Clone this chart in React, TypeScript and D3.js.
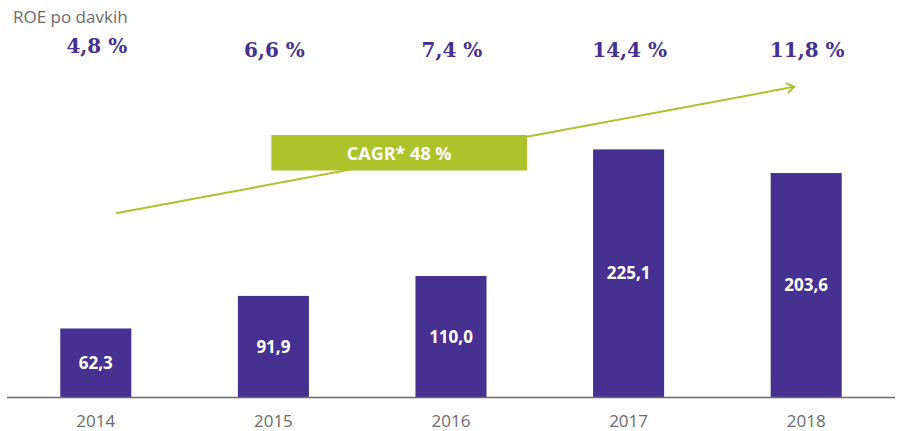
import React from "react";
import * as d3 from "d3";

const years = ["2014", "2015", "2016", "2017", "2018"];
const profit = [62.3, 91.9, 110.0, 225.1, 203.6];
const profitLabels = ["62,3", "91,9", "110,0", "225,1", "203,6"];
const roeLabels = ["4,8 %", "6,6 %", "7,4 %", "14,4 %", "11,8 %"];
const roeTitle = "ROE po davkih";
const cagrLabel = "CAGR* 48 %";
// annotation arrow endpoints in data space (year, value)
const arrowFrom = { year: "2014", value: 167 };
const arrowTo = { year: "2018", value: 282 };

const W = 899;
const H = 431;
const PURPLE = "#463092";
const GREEN = "#ADC32B";
const GREY = "#6b6b6b";
const SANS = "'Open Sans', 'Noto Sans', sans-serif";
const SERIF = "'DejaVu Serif', serif";

export default function App() {
  const x = d3.scaleBand<string>().domain(years).range([7, 895]).paddingInner(0.6).paddingOuter(0.3);
  const y = d3.scaleLinear().domain([0, 250]).range([397, 122]);
  const bw = x.bandwidth();
  const cx = (yr: string) => (x(yr) as number) + bw / 2;

  const ax1 = cx(arrowFrom.year) + 20;
  const ay1 = y(arrowFrom.value);
  const ax2 = cx(arrowTo.year) - 12;
  const ay2 = y(arrowTo.value);
  const ang = Math.atan2(ay2 - ay1, ax2 - ax1);
  const hl = 9;
  const ha = 0.6;
  const head = [
    [ax2 - hl * Math.cos(ang - ha), ay2 - hl * Math.sin(ang - ha)],
    [ax2, ay2],
    [ax2 - hl * Math.cos(ang + ha), ay2 - hl * Math.sin(ang + ha)],
  ];
  const line = d3.line();

  const boxX0 = cx("2015") - 2;
  const boxX1 = cx("2016") + 76;

  return (
    <svg width={W} height={H} style={{ position: "absolute", left: 0, top: 0, background: "#fff" }}>
      <text x={13} y={23} fontFamily={SANS} fontSize={17} fill={GREY}>{roeTitle}</text>
      {roeLabels.map((l, i) => (
        <text key={l} x={cx(years[i]) + 1} y={i === 0 ? 52.5 : 57} textAnchor="middle" fontFamily={SERIF} fontWeight="bold" fontSize={20} fill={PURPLE}>{l}</text>
      ))}
      <path d={line([[ax1, ay1], [ax2, ay2]]) || ""} stroke={GREEN} strokeWidth={2} fill="none" />
      <path d={line(head as [number, number][]) || ""} stroke={GREEN} strokeWidth={2} fill="none" />
      <rect x={boxX0} y={135} width={boxX1 - boxX0} height={35.5} fill={GREEN} />
      <text x={(boxX0 + boxX1) / 2} y={159.5} textAnchor="middle" fontFamily={SANS} fontWeight="bold" fontSize={18} fill="#fff">{cagrLabel}</text>
      {years.map((yr, i) => (
        <g key={yr}>
          <rect x={x(yr)} y={y(profit[i])} width={bw} height={y(0) - y(profit[i])} fill={PURPLE} />
          <text x={cx(yr)} y={(y(profit[i]) + y(0)) / 2} dy="0.37em" textAnchor="middle" fontFamily={SANS} fontWeight="bold" fontSize={17} fill="#fff">{profitLabels[i]}</text>
          <text x={cx(yr)} y={427} textAnchor="middle" fontFamily={SANS} fontSize={17} fill={GREY}>{yr}</text>
        </g>
      ))}
      <line x1={7} x2={895} y1={397.5} y2={397.5} stroke={GREY} strokeWidth={1.5} />
    </svg>
  );
}
